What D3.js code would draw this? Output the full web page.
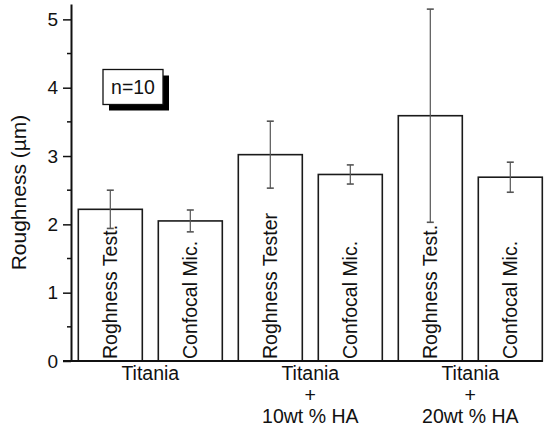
<!DOCTYPE html>
<html>
<head>
<meta charset="utf-8">
<script src="https://cdn.jsdelivr.net/npm/d3@7"></script>
<style>
  body { margin: 0; background: #fff; }
  text { font-family: "Liberation Sans", Arial, sans-serif; fill: #111; }
</style>
</head>
<body>
<svg id="render" width="545" height="431"></svg>
<script>
// values
const groups = [["Titania"], ["Titania", "+", "10wt % HA"], ["Titania", "+", "20wt % HA"]];
const barLabels = ["Roghness Test.", "Confocal Mic.", "Roghness Tester", "Confocal Mic.", "Roghness Test.", "Confocal Mic."];
const roughness = [2.22, 2.05, 3.02, 2.73, 3.59, 2.69];
const sd = [0.28, 0.16, 0.49, 0.14, 1.56, 0.22];
const yTicks = [0, 1, 2, 3, 4, 5];
const yMinor = [0.5, 1.5, 2.5, 3.5, 4.5];
const noteText = "n=10";

let svg = d3.select('#render');

let y = d3.scaleLinear().domain([0, 5.225]).range([361, 4]);
let x = d3.scaleBand()
  .domain(d3.range(roughness.length))
  .range([70.3, 550.3])
  .paddingInner(0.2)
  .paddingOuter(0.1);

let bars = roughness.map((v, i) => ({i: i, v: v, e: sd[i], label: barLabels[i]}));

// bars
svg.append('g').selectAll('rect')
  .data(bars)
  .join('rect')
  .attr('x', d => x(d.i))
  .attr('y', d => y(d.v))
  .attr('width', x.bandwidth())
  .attr('height', d => y(0) - y(d.v))
  .style('fill', '#fff')
  .style('stroke', '#1a1a1a')
  .style('stroke-width', 1.6);

// error bars
let err = svg.append('g')
  .style('stroke', '#555')
  .style('stroke-width', 1.2);
let cx = d => x(d.i) + x.bandwidth() / 2;
err.selectAll('.stem')
  .data(bars)
  .join('line')
  .attr('class', 'stem')
  .attr('x1', cx).attr('x2', cx)
  .attr('y1', d => y(d.v + d.e))
  .attr('y2', d => y(d.v - d.e));
err.selectAll('.cap')
  .data(bars.flatMap(d => [{c: cx(d), v: d.v + d.e}, {c: cx(d), v: d.v - d.e}]))
  .join('line')
  .attr('class', 'cap')
  .attr('x1', d => d.c - 3.5).attr('x2', d => d.c + 3.5)
  .attr('y1', d => y(d.v)).attr('y2', d => y(d.v))
  .style('stroke-width', 1.6);

// labels written inside the bars
svg.append('g').selectAll('text')
  .data(bars)
  .join('text')
  .attr('transform', d => `translate(${cx(d)},${y(0) - 2}) rotate(-90)`)
  .attr('dy', '0.33em')
  .style('font-size', '19.5px')
  .text(d => d.label);

// y axis
let yAxis = svg.append('g')
  .attr('transform', 'translate(71,0)')
  .call(d3.axisLeft(y).tickValues(yTicks).tickFormat(d3.format('d'))
    .tickSize(8).tickSizeOuter(0).tickPadding(5));
yAxis.select('.domain').style('stroke', '#111').style('stroke-width', 2);
yAxis.selectAll('.tick line').style('stroke', '#111').style('stroke-width', 1.5);
yAxis.selectAll('.tick text')
  .style('font-size', '19px')
  .style('font-family', '"Liberation Sans", Arial, sans-serif')
  .style('fill', '#111');

svg.append('g').selectAll('line')
  .data(yMinor)
  .join('line')
  .attr('x1', 67).attr('x2', 71)
  .attr('y1', d => y(d)).attr('y2', d => y(d))
  .style('stroke', '#111')
  .style('stroke-width', 1.5);

// baseline
svg.append('line')
  .attr('x1', 63).attr('x2', x(roughness.length - 1) + x.bandwidth() + 0.5)
  .attr('y1', y(0)).attr('y2', y(0))
  .style('stroke', '#111')
  .style('stroke-width', 2);

// y title
svg.append('text')
  .attr('transform', `translate(26,${(y(0) + y(5.225)) / 2 + 10}) rotate(-90)`)
  .attr('text-anchor', 'middle')
  .style('font-size', '21px')
  .text('Roughness (\u00b5m)');

// group labels
let gl = svg.append('g').selectAll('text')
  .data(groups)
  .join('text')
  .attr('text-anchor', 'middle')
  .style('font-size', '19.5px');
gl.selectAll('tspan')
  .data((d, gi) => d.map((t, li) => ({t: t, li: li, gi: gi})))
  .join('tspan')
  .attr('x', d => (x(d.gi * 2) + x(d.gi * 2 + 1) + x.bandwidth()) / 2)
  .attr('y', d => 380 + d.li * 21.5)
  .text(d => d.t);

// n=10 box with drop shadow
let note = svg.append('g').attr('transform', 'translate(103,69.5)');
note.append('rect')
  .attr('x', 6).attr('y', 6).attr('width', 60).attr('height', 35)
  .style('fill', '#000');
note.append('rect')
  .attr('width', 60).attr('height', 35)
  .style('fill', '#fff')
  .style('stroke', '#111')
  .style('stroke-width', 1.3);
note.append('text')
  .attr('x', 30).attr('y', 24.5)
  .attr('text-anchor', 'middle')
  .style('font-size', '19.5px')
  .text(noteText);
</script>
</body>
</html>
